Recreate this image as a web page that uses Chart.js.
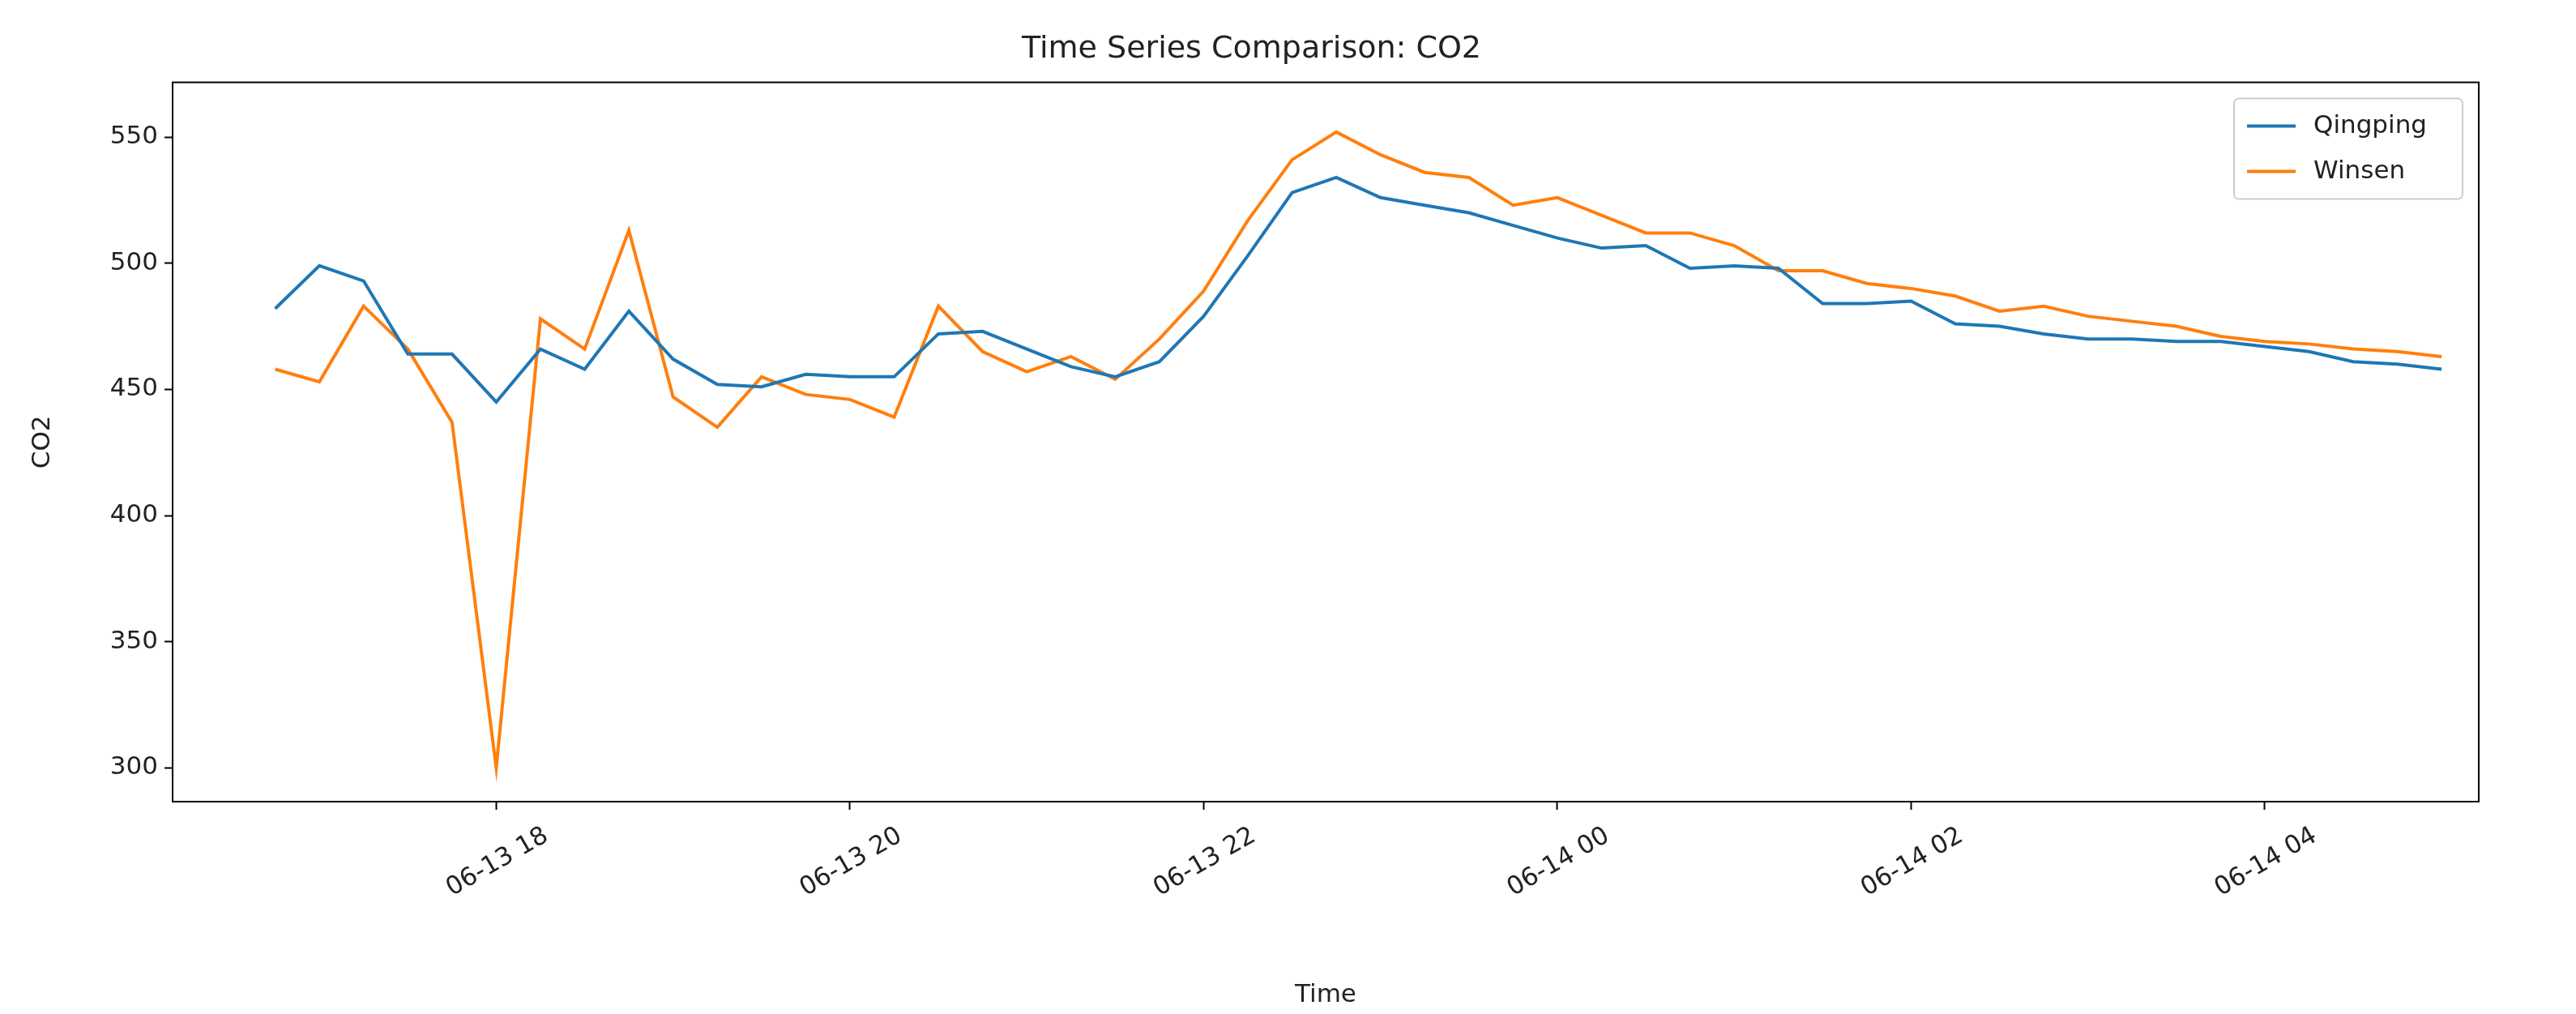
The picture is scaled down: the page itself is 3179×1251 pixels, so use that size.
<!DOCTYPE html>
<html>
<head>
<meta charset="utf-8">
<script src="https://cdn.jsdelivr.net/npm/chart.js@4/dist/chart.umd.min.js"></script>
<style>
  body { margin: 0; background: #fff; }
  canvas { display: block; }
</style>
</head>
<body>
<canvas id="co2Chart" width="3179" height="1251"></canvas>
<script>
// hours since 06-13 00:00, one reading every 15 minutes from 16:45 to 05:00
const startHour = 16.75;
const stepHour = 0.25;
const qingping = [482, 499, 493, 464, 464, 445, 466, 458, 481, 462, 452, 451, 456, 455, 455, 472, 473, 466, 459, 455,
    461, 479, 503, 528, 534, 526, 523, 520, 515, 510, 506, 507, 498, 499, 498, 484, 484, 485, 476, 475,
    472, 470, 470, 469, 469, 467, 465, 461, 460, 458];
const winsen = [458, 453, 483, 466, 437, 300, 478, 466, 513, 447, 435, 455, 448, 446, 439, 483, 465, 457, 463, 454,
    470, 489, 517, 541, 552, 543, 536, 534, 523, 526, 519, 512, 512, 507, 497, 497, 492, 490, 487, 481,
    483, 479, 477, 475, 471, 469, 468, 466, 465, 463];
const tickHours = [18, 20, 22, 24, 26, 28];
const tickLabels = ['06-13 18', '06-13 20', '06-13 22', '06-14 00', '06-14 02', '06-14 04'];
const yTicks = [300, 350, 400, 450, 500, 550];

const toPoints = values => values.map((v, i) => ({ x: startHour + i * stepHour, y: v }));
const font = { family: 'DejaVu Sans', size: 31 };

const boxAndLegend = {
    id: 'boxAndLegend',
    afterDraw(chart) {
        const { ctx, chartArea: a } = chart;
        ctx.save();
        ctx.strokeStyle = '#000';
        ctx.lineWidth = 2;
        ctx.strokeRect(a.left, a.top, a.right - a.left, a.bottom - a.top);
        // legend box, upper right
        const w = 282, h = 124, x = a.right - w - 20, y = a.top + 20;
        ctx.fillStyle = 'rgba(255,255,255,0.85)';
        ctx.strokeStyle = '#ccc';
        ctx.lineWidth = 2;
        ctx.beginPath();
        ctx.roundRect(x, y, w, h, 6);
        ctx.fill();
        ctx.stroke();
        ctx.font = '31px DejaVu Sans';
        ctx.textBaseline = 'middle';
        chart.data.datasets.forEach((ds, i) => {
            const ly = y + 34 + i * 56;
            ctx.strokeStyle = ds.borderColor;
            ctx.lineWidth = 4;
            ctx.beginPath();
            ctx.moveTo(x + 16, ly);
            ctx.lineTo(x + 76, ly);
            ctx.stroke();
            ctx.fillStyle = '#222';
            ctx.fillText(ds.label, x + 98, ly);
        });
        ctx.restore();
    }
};

new Chart(document.getElementById('co2Chart').getContext('2d'), {
    type: 'line',
    data: {
        datasets: [{
            label: 'Qingping',
            data: toPoints(qingping),
            borderColor: '#1f77b4',
            borderWidth: 4,
            pointRadius: 0,
            tension: 0
        }, {
            label: 'Winsen',
            data: toPoints(winsen),
            borderColor: '#ff7f0e',
            borderWidth: 4,
            pointRadius: 0,
            tension: 0
        }]
    },
    options: {
        responsive: false,
        animation: false,
        layout: { padding: { right: 120, top: 38, left: 30 } },
        plugins: {
            legend: { display: false },
            tooltip: { enabled: false },
            title: {
                display: true,
                text: 'Time Series Comparison: CO2',
                color: '#222',
                font: { family: 'DejaVu Sans', size: 38, weight: 'normal' },
                padding: { top: 0, bottom: 18 }
            }
        },
        scales: {
            x: {
                type: 'linear',
                min: 16.17,
                max: 29.21,
                afterBuildTicks: axis => { axis.ticks = tickHours.map(v => ({ value: v })); },
                afterFit: axis => { axis.height = 262; },
                grid: { display: true, drawOnChartArea: false, drawTicks: true, tickLength: 10, tickColor: '#000', tickWidth: 2 },
                border: { display: false },
                ticks: {
                    color: '#222',
                    font: font,
                    maxRotation: 30,
                    minRotation: 30,
                    padding: 14,
                    labelOffset: 0,
                    callback: v => tickLabels[tickHours.indexOf(v)] ?? ''
                },
                title: { display: true, text: 'Time', color: '#222', font: font, padding: { top: 0 } }
            },
            y: {
                min: 286.6,
                max: 571.7,
                afterBuildTicks: axis => { axis.ticks = yTicks.map(v => ({ value: v })); },
                afterFit: axis => { axis.width = 183; },
                grid: { display: true, drawOnChartArea: false, drawTicks: true, tickLength: 10, tickColor: '#000', tickWidth: 2 },
                border: { display: false },
                ticks: { color: '#222', font: font, padding: 8 },
                title: { display: true, text: 'CO2', color: '#222', font: font }
            }
        }
    },
    plugins: [boxAndLegend, {
        id: 'shiftXLabels',
        // matplotlib centres rotated labels on the tick; nudge Chart.js's end-anchored labels right
        afterFit() {},
        beforeDraw(chart) {
            const x = chart.scales.x;
            if (!x._shifted) {
                const orig = x._computeLabelItems.bind(x);
                x._computeLabelItems = function (ca) {
                    const items = orig(ca);
                    items.forEach(it => { it.options.translation[0] += 62; });
                    return items;
                };
                x._labelItems = null;
                x._shifted = true;
            }
        }
    }]
});
</script>
</body>
</html>
